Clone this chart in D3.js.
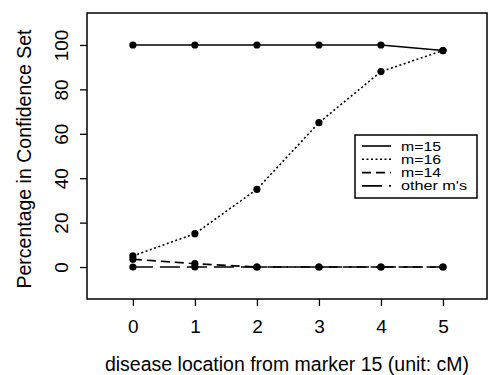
<!DOCTYPE html>
<html>
<head>
<meta charset="utf-8">
<script src="https://cdn.jsdelivr.net/npm/d3@7"></script>
<style>
  body { margin: 0; background: #fff; }
  svg { display: block; }
</style>
</head>
<body>
<div id="chart"></div>
<script>
// data
const locations = [0, 1, 2, 3, 4, 5];
const m15 = [100, 100, 100, 100, 100, 97.5];
const m16 = [5, 15, 35, 65, 88, 97.5];
const m14 = [3.5, 1.5, 0, 0, 0, 0];
const otherMs = [0, 0, 0, 0, 0, 0];
const yTicks = [0, 20, 40, 60, 80, 100];

const seriesNames = ["m=15", "m=16", "m=14", "other m's"];
const seriesValues = [m15, m16, m14, otherMs];
const dashes = [null, "2,2.5", "9,5", "20,7"];

const font = "'Liberation Sans', Arial, sans-serif";
const width = 489, height = 375;
const box = { left: 87, right: 487, top: 13, bottom: 299 };

const svg = d3.select("#chart").append("svg")
    .attr("width", width)
    .attr("height", height)
    .attr("font-family", font);

const x = d3.scaleLinear()
    .domain([-0.74, 5.71])
    .range([box.left, box.right]);

const y = d3.scaleLinear()
    .domain([-14.4, 114.4])
    .range([box.bottom, box.top]);

// plot frame
svg.append("rect")
    .attr("x", box.left)
    .attr("y", box.top)
    .attr("width", box.right - box.left)
    .attr("height", box.bottom - box.top)
    .attr("fill", "none")
    .attr("stroke", "#000")
    .attr("stroke-width", 1.5);

// x axis
const xAxis = svg.append("g")
    .attr("transform", `translate(0,${box.bottom})`)
    .call(d3.axisBottom(x).tickValues(locations).tickFormat(d3.format("d")).tickSize(7).tickPadding(14));
xAxis.attr("font-size", 19).attr("font-family", font);
xAxis.select(".domain").remove();
xAxis.selectAll("line").attr("stroke-width", 1.3);
xAxis.selectAll("text").attr("fill", "#000");

// y axis, labels turned to read upwards
const yAxis = svg.append("g")
    .attr("transform", `translate(${box.left},0)`)
    .call(d3.axisLeft(y).tickValues(yTicks).tickFormat(d3.format("d")).tickSize(7));
yAxis.attr("font-size", 19).attr("font-family", font);
yAxis.select(".domain").remove();
yAxis.selectAll("line").attr("stroke-width", 1.3);
yAxis.selectAll(".tick text")
    .attr("x", 0)
    .attr("y", -19)
    .attr("dy", 0)
    .attr("text-anchor", "middle")
    .attr("transform", "rotate(-90)")
    .attr("fill", "#000");

// axis titles
svg.append("text")
    .attr("x", (box.left + box.right) / 2)
    .attr("y", 371)
    .attr("text-anchor", "middle")
    .attr("font-size", 19.5)
    .text("disease location from marker 15 (unit: cM)");

svg.append("text")
    .attr("transform", `translate(31,${(box.top + box.bottom) / 2 + 3}) rotate(-90)`)
    .attr("text-anchor", "middle")
    .attr("font-size", 19.5)
    .text("Percentage in Confidence Set");

// lines and points
const line = d3.line()
    .x((d, i) => x(locations[i]))
    .y(d => y(d));

seriesValues.forEach((vals, k) => {
    svg.append("path")
        .datum(vals)
        .attr("d", line)
        .attr("fill", "none")
        .attr("stroke", "#000")
        .attr("stroke-width", 1.6)
        .attr("stroke-dasharray", dashes[k]);

    svg.append("g")
        .selectAll("circle")
        .data(vals)
        .enter()
        .append("circle")
            .attr("cx", (d, i) => x(locations[i]))
            .attr("cy", d => y(d))
            .attr("r", 3.6)
            .attr("fill", "#000");
});

// legend
const legend = svg.append("g").attr("transform", "translate(355,135)");
legend.append("rect")
    .attr("width", 122)
    .attr("height", 63)
    .attr("fill", "#fff")
    .attr("stroke", "#000")
    .attr("stroke-width", 1.5);

seriesNames.forEach((name, k) => {
    const ry = 11 + k * 13.3;
    legend.append("line")
        .attr("x1", 7).attr("x2", 36)
        .attr("y1", ry).attr("y2", ry)
        .attr("stroke", "#000")
        .attr("stroke-width", 1.6)
        .attr("stroke-dasharray", dashes[k]);
    legend.append("text")
        .attr("x", 46)
        .attr("y", ry + 4.5)
        .attr("font-size", 12.5)
        .attr("textLength", k === 3 ? 66 : 40)
        .attr("lengthAdjust", "spacingAndGlyphs")
        .text(name);
});
</script>
</body>
</html>
